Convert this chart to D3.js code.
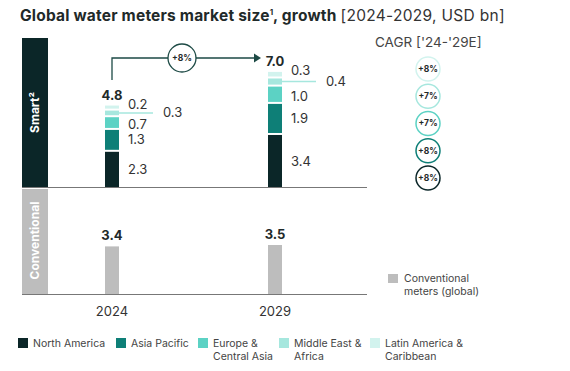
<!DOCTYPE html>
<html>
<head>
<meta charset="utf-8">
<script src="https://cdn.jsdelivr.net/npm/d3@7"></script>
<style>
  body { margin: 0; background: #fff; }
  svg { font-family: Inter, "Open Sans", sans-serif; }
</style>
</head>
<body>
<div class="chart"></div>
<script>
// data
var years = ["2024", "2029"];
var regions = ["North America", "Asia Pacific", "Europe & Central Asia", "Middle East & Africa", "Latin America & Caribbean"];
var smart2024 = [2.3, 1.3, 0.7, 0.3, 0.2];
var smart2029 = [3.4, 1.9, 1.0, 0.4, 0.3];
var smartTotals = [4.8, 7.0];
var conventional = [3.4, 3.5];
var regionCagr = ["+8%", "+8%", "+7%", "+7%", "+8%"];
var totalCagr = "+8%";

var colors = ["#0b2628", "#0e7f77", "#5cd2c4", "#a6e7de", "#d2f3ee"];
var grey = "#bdbdbd";
var dark = "#1f2a2a";

var W = 570, H = 371;
var svg = d3.select("div.chart").append("svg").attr("width", W).attr("height", H);

// title
var title = svg.append("text").attr("x", 20).attr("y", 21).attr("font-size", 15.5).attr("fill", dark);
title.append("tspan").attr("font-weight", "bold").attr("letter-spacing", 0.2).text("Global water meters market size");
title.append("tspan").attr("font-weight", "bold").attr("font-size", 8).attr("dy", -6).text("1");
title.append("tspan").attr("font-weight", "bold").attr("dy", 6).attr("letter-spacing", 0.2).text(", growth ");
title.append("tspan").attr("font-weight", "normal").attr("fill", "#333").attr("letter-spacing", 0.3).text("[2024-2029, USD bn]");

// scales
var x = d3.scalePoint().domain(years).range([112, 275]);
var barW = 14, gap = 2;
var smartBase = 187, convBase = 294;
var ySmart = d3.scaleLinear().domain([0, 1]).range([0, 15.3]);
var yConv = d3.scaleLinear().domain([0, 1]).range([0, 14]);

// side bands
svg.append("rect").attr("x", 22).attr("y", 38).attr("width", 26).attr("height", smartBase - 38).attr("fill", colors[0]);
svg.append("rect").attr("x", 22).attr("y", smartBase + 2).attr("width", 26).attr("height", convBase - smartBase - 2).attr("fill", grey);
svg.append("text").attr("transform", "translate(39," + (smartBase + 38) / 2 + ") rotate(-90)")
  .attr("text-anchor", "middle").attr("fill", "#fff").attr("font-size", 12).attr("font-weight", "bold")
  .text("Smart²");
svg.append("text").attr("transform", "translate(39," + (smartBase + convBase) / 2 + ") rotate(-90)")
  .attr("text-anchor", "middle").attr("fill", "#fff").attr("font-size", 12).attr("font-weight", "bold")
  .text("Conventional");

// baselines
svg.append("line").attr("x1", 22).attr("x2", 367).attr("y1", smartBase + 0.5).attr("y2", smartBase + 0.5).attr("stroke", "#777").attr("stroke-width", 1.2);
svg.append("line").attr("x1", 22).attr("x2", 367).attr("y1", convBase + 0.5).attr("y2", convBase + 0.5).attr("stroke", "#777").attr("stroke-width", 1.2);

// stacked smart bars
[smart2024, smart2029].forEach(function(vals, yi) {
  var cx = x(years[yi]);
  var cum = 0;
  var segs = vals.map(function(v, i) {
    var bottom = smartBase - ySmart(cum) - i * gap;
    cum += v;
    var top = smartBase - ySmart(cum) - i * gap;
    return {v: v, i: i, top: top, bottom: bottom};
  });
  var g = svg.append("g");
  g.selectAll("rect").data(segs).enter().append("rect")
    .attr("x", cx - barW / 2).attr("width", barW)
    .attr("y", function(d) { return d.top; })
    .attr("height", function(d) { return d.bottom - d.top; })
    .attr("fill", function(d) { return colors[d.i]; });
  // labels
  g.selectAll("text.val").data(segs).enter().append("text")
    .attr("class", "val")
    .attr("x", function(d) { return d.i == 3 ? cx + 51 : cx + 16; })
    .attr("y", function(d) {
      var m = (d.top + d.bottom) / 2;
      if (d.i == 4) return d.top - 1;
      if (d.i == 2) return m + 2;
      return m;
    })
    .attr("dy", "0.35em").attr("font-size", 13).attr("fill", "#333")
    .text(function(d) { return d.v.toFixed(1); });
  var me = segs[3];
  g.append("line").attr("x1", cx + barW / 2).attr("x2", cx + 41)
    .attr("y1", (me.top + me.bottom) / 2).attr("y2", (me.top + me.bottom) / 2)
    .attr("stroke", colors[3]).attr("stroke-width", 1.5);
  g.append("text").attr("x", cx).attr("y", segs[4].top - 6).attr("text-anchor", "middle")
    .attr("font-size", 13).attr("font-weight", "bold").attr("fill", dark)
    .text(smartTotals[yi].toFixed(1));
});

// growth arrow
var arrowY = 58;
var ax1 = x(years[0]), ax2 = x(years[1]) - 20;
var arrowC = "#1d4a45";
svg.append("path").attr("d", "M" + ax1 + ",80 V" + arrowY + " H" + ax2)
  .attr("fill", "none").attr("stroke", arrowC).attr("stroke-width", 1.3);
svg.append("path").attr("d", "M" + (ax2 + 6) + "," + arrowY + " l-7,-4.5 v9 z").attr("fill", arrowC);
svg.append("circle").attr("cx", 182).attr("cy", arrowY).attr("r", 14)
  .attr("fill", "#fff").attr("stroke", arrowC).attr("stroke-width", 1.3);
svg.append("text").attr("x", 182).attr("y", arrowY).attr("dy", "0.35em").attr("text-anchor", "middle")
  .attr("font-size", 8.5).attr("font-weight", "bold").attr("fill", dark).text(totalCagr);

// conventional bars
svg.selectAll("rect.conv").data(conventional).enter().append("rect")
  .attr("class", "conv")
  .attr("x", function(d, i) { return x(years[i]) - barW / 2; })
  .attr("width", barW)
  .attr("y", function(d) { return convBase - yConv(d); })
  .attr("height", function(d) { return yConv(d); })
  .attr("fill", grey);
svg.selectAll("text.conv").data(conventional).enter().append("text")
  .attr("class", "conv")
  .attr("x", function(d, i) { return x(years[i]); })
  .attr("y", function(d) { return convBase - yConv(d) - 6; })
  .attr("text-anchor", "middle").attr("font-size", 13).attr("font-weight", "bold").attr("fill", dark)
  .text(function(d) { return d.toFixed(1); });

// year axis
svg.append("g").selectAll("text").data(years).enter().append("text")
  .attr("x", function(d) { return x(d); }).attr("y", 316)
  .attr("text-anchor", "middle").attr("font-size", 13).attr("fill", "#333")
  .text(function(d) { return d; });

// CAGR column
svg.append("text").attr("x", 375).attr("y", 47).attr("font-size", 13.5).attr("fill", "#444")
  .text("CAGR ['24-'29E]");
var cagrY = d3.scalePoint().domain(d3.range(5)).range([178, 69]);
var cg = svg.append("g");
cg.selectAll("circle").data(regionCagr).enter().append("circle")
  .attr("cx", 428).attr("cy", function(d, i) { return cagrY(i); }).attr("r", 12)
  .attr("fill", "#fff").attr("stroke", function(d, i) { return colors[i]; }).attr("stroke-width", 1.5);
cg.selectAll("text").data(regionCagr).enter().append("text")
  .attr("x", 428).attr("y", function(d, i) { return cagrY(i); }).attr("dy", "0.35em")
  .attr("text-anchor", "middle").attr("font-size", 8.5).attr("font-weight", "bold").attr("fill", dark)
  .text(function(d) { return d; });

// conventional legend
svg.append("rect").attr("x", 388).attr("y", 274).attr("width", 10).attr("height", 9).attr("fill", grey);
svg.append("text").attr("x", 404).attr("y", 282).attr("font-size", 10.5).attr("fill", "#444").text("Conventional");
svg.append("text").attr("x", 404).attr("y", 295).attr("font-size", 10.5).attr("fill", "#444").text("meters (global)");

// region legend
var legendX = [18, 116, 198, 279, 370];
var legendLines = [["North America"], ["Asia Pacific"], ["Europe &", "Central Asia"], ["Middle East &", "Africa"], ["Latin America &", "Caribbean"]];
var lg = svg.append("g").selectAll("g").data(regions).enter().append("g")
  .attr("transform", function(d, i) { return "translate(" + legendX[i] + ",338)"; });
lg.append("rect").attr("width", 10).attr("height", 10).attr("fill", function(d, i) { return colors[i]; });
lg.append("text").attr("x", 15).attr("y", 9).attr("font-size", 10.5).attr("fill", "#444")
  .selectAll("tspan").data(function(d, i) { return legendLines[i]; }).enter().append("tspan")
  .attr("x", 15).attr("dy", function(d, j) { return j ? 13 : 0; })
  .text(function(d) { return d; });
</script>
</body>
</html>
